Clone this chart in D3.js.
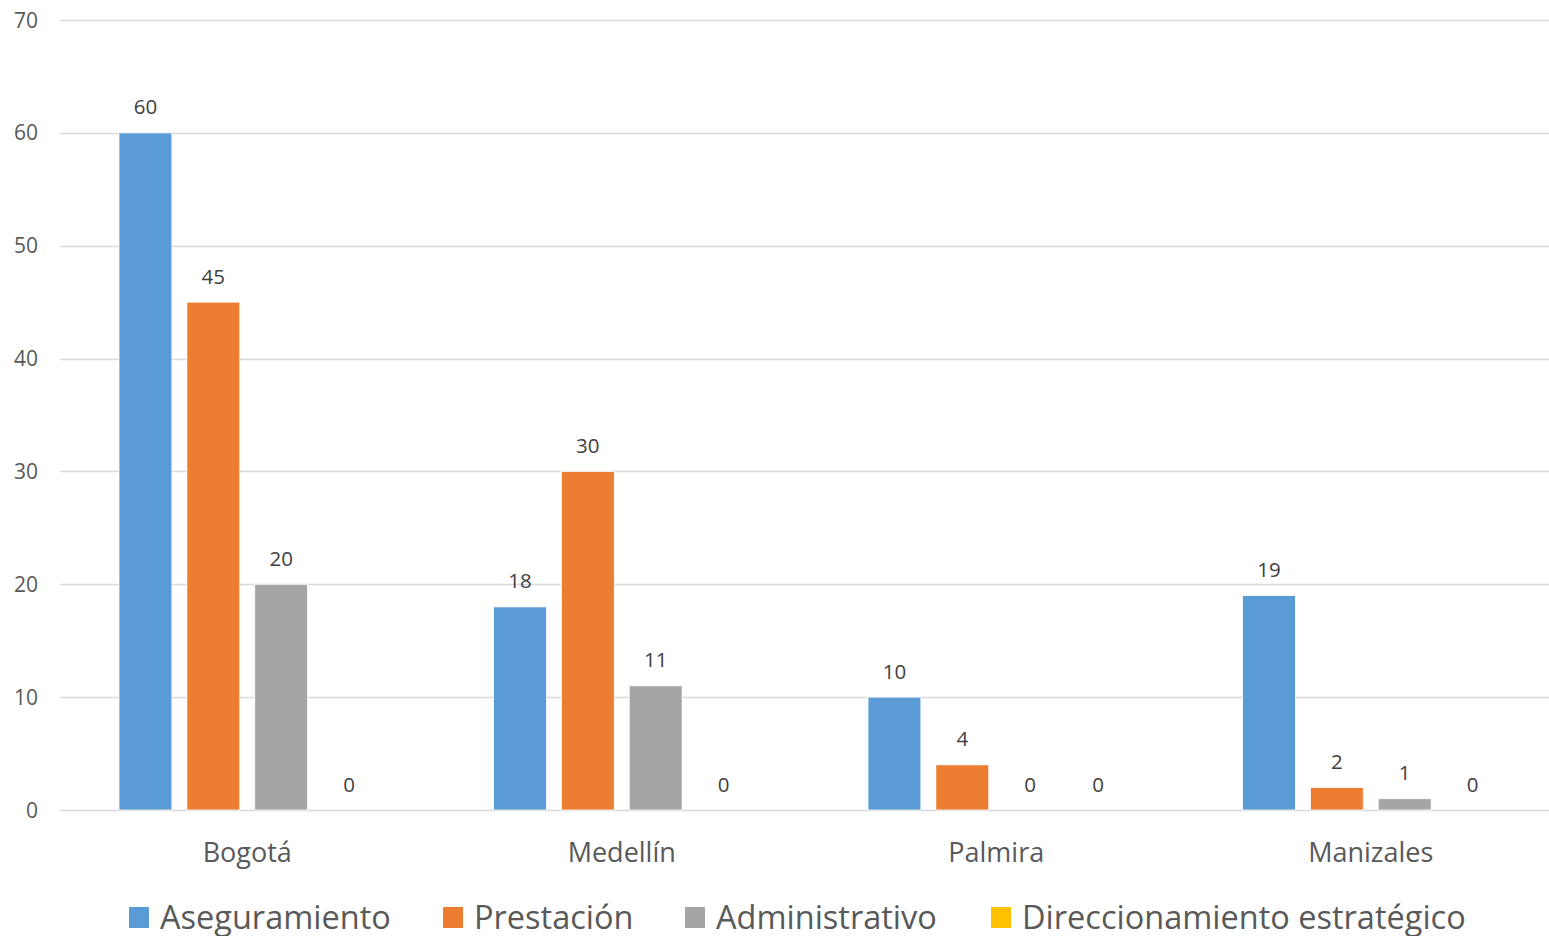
<!DOCTYPE html>
<html><head><meta charset="utf-8">
<script src="https://cdn.jsdelivr.net/npm/d3@7"></script>
<style>
html,body{margin:0;padding:0;background:#fff;}
svg{display:block;font-family:"Open Sans",sans-serif;}
</style></head>
<body>
<svg id="c" width="1549" height="936"></svg>
<script>
const categories = ["Bogotá", "Medellín", "Palmira", "Manizales"];
const seriesNames = ["Aseguramiento", "Prestación", "Administrativo", "Direccionamiento estratégico"];
const aseguramiento = [60, 18, 10, 19];
const prestacion = [45, 30, 4, 2];
const administrativo = [20, 11, 0, 1];
const direccionamiento = [0, 0, 0, 0];
const yTicks = [0, 10, 20, 30, 40, 50, 60, 70];
const colors = ["#5B9BD5", "#ED7D31", "#A5A5A5", "#FFC000"];

const seriesValues = [aseguramiento, prestacion, administrativo, direccionamiento];
const svg = d3.select("#c");
const textColor = "#595959";

const y = d3.scaleLinear().domain([0, 70]).range([810, 20]);
const x0 = d3.scaleBand().domain(categories).range([60, 1558]).paddingInner(0).paddingOuter(0);
const x1 = d3.scaleBand().domain(seriesNames).range([59, x0.bandwidth() - 59]).paddingInner(15/68).paddingOuter(0);

// gridlines
svg.append("g").selectAll("line").data(yTicks).join("line")
  .attr("x1", 60).attr("x2", 1558)
  .attr("y1", d => Math.round(y(d)) + 0.5).attr("y2", d => Math.round(y(d)) + 0.5)
  .attr("stroke", "#D9D9D9").attr("stroke-width", 1.5);

// y tick labels
svg.append("g").selectAll("text").data(yTicks).join("text")
  .attr("x", 38).attr("y", d => y(d) + 7.5)
  .attr("text-anchor", "end").attr("font-size", 21).attr("fill", textColor)
  .text(d => d);

// bars
const groups = svg.append("g").selectAll("g").data(categories).join("g")
  .attr("transform", d => `translate(${x0(d)},0)`);

groups.each(function(cat, ci) {
  const g = d3.select(this);
  seriesNames.forEach((s, si) => {
    const v = seriesValues[si][ci];
    if (v > 0) {
      g.append("rect")
        .attr("x", x1(s)).attr("y", y(v))
        .attr("width", x1.bandwidth()).attr("height", y(0) - y(v))
        .attr("fill", colors[si])
        .attr("stroke", "#fff").attr("stroke-width", 0.8);
    }
    g.append("text")
      .attr("x", x1(s) + x1.bandwidth() / 2).attr("y", y(v) - 18.5)
      .attr("text-anchor", "middle").attr("font-size", 20.5).attr("fill", "#404040")
      .text(v);
  });
});

// category labels
svg.append("g").selectAll("text").data(categories).join("text")
  .attr("x", d => x0(d) + x0.bandwidth() / 2).attr("y", 862)
  .attr("text-anchor", "middle").attr("font-size", 27).attr("fill", textColor)
  .text(d => d);

// legend
const legendX = [129, 443, 685, 991];
const lg = svg.append("g").selectAll("g").data(seriesNames).join("g")
  .attr("transform", (d, i) => `translate(${legendX[i]},907)`);
lg.append("rect").attr("width", 20).attr("height", 21).attr("fill", (d, i) => colors[i]);
lg.append("text").attr("x", 31).attr("y", 22).attr("font-size", 32.5).attr("fill", textColor)
  .text(d => d);
</script>
</body></html>
